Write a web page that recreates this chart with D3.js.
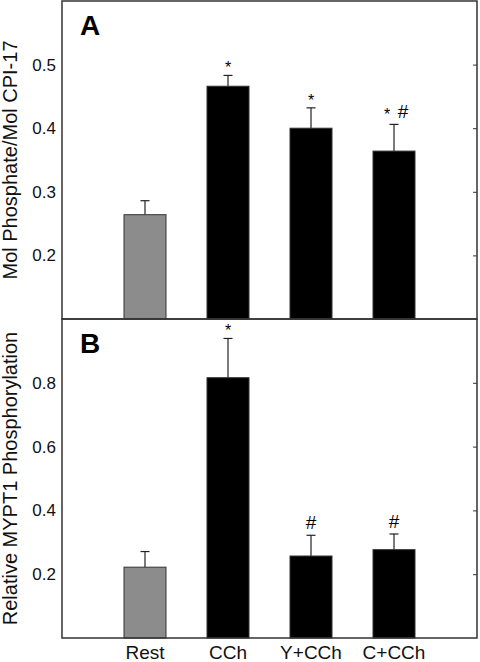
<!DOCTYPE html>
<html><head><meta charset="utf-8">
<script src="https://cdn.jsdelivr.net/npm/d3@7"></script>
<style>body{margin:0;background:#fff}svg{display:block;font-family:Arial,"Liberation Sans",sans-serif}</style>
</head><body><svg id="c" width="480" height="662"></svg>
<script>
const categories = ["Rest","CCh","Y+CCh","C+CCh"];
const colors = ["#8c8c8c","#000","#000","#000"];
const aValues = [0.264, 0.466, 0.400, 0.364];
const aErrors = [0.022, 0.017, 0.032, 0.042];
const aMarks = ["", "*", "*", "* #"];
const aTicks = [0.2, 0.3, 0.4, 0.5];
const bValues = [0.222, 0.816, 0.257, 0.277];
const bErrors = [0.049, 0.123, 0.065, 0.049];
const bMarks = ["", "*", "#", "#"];
const bTicks = [0.2, 0.4, 0.6, 0.8];

const svg = d3.select("#c");
const L = 62, R = 477;
const x = d3.scaleLinear().domain([0,5]).range([L,R]);
const bw = 42;

function panel(top, bottom, domain, vals, errs, marks, ticks, letter, ylabel){
  const y = d3.scaleLinear().domain(domain).range([bottom, top]);
  const g = svg.append("g");
  vals.forEach((v,i)=>{
    const cx = x(i+1);
    g.append("line").attr("x1",cx).attr("x2",cx).attr("y1",y(v)).attr("y2",y(v+errs[i])).attr("stroke","#222").attr("stroke-width",1.2);
    g.append("line").attr("x1",cx-4.5).attr("x2",cx+4.5).attr("y1",y(v+errs[i])).attr("y2",y(v+errs[i])).attr("stroke","#222").attr("stroke-width",1.2);
    g.append("rect").attr("x",cx-bw/2).attr("width",bw).attr("y",y(v)).attr("height",bottom-y(v))
      .attr("fill",colors[i]).attr("stroke","#333").attr("stroke-width",1);
    if(marks[i]){
      const ty = y(v+errs[i]) - 6;
      if(marks[i].includes("#")){
        if(marks[i].includes("*")){
          g.append("text").attr("x",cx-7).attr("y",ty+2).attr("text-anchor","middle").attr("font-size",16).text("*");
          g.append("text").attr("x",cx+9).attr("y",ty).attr("text-anchor","middle").attr("font-size",19).text("#");
        } else {
          g.append("text").attr("x",cx).attr("y",ty).attr("text-anchor","middle").attr("font-size",19).text("#");
        }
      } else {
        g.append("text").attr("x",cx).attr("y",ty+4).attr("text-anchor","middle").attr("font-size",16).text("*");
      }
    }
  });
  const ya = g.append("g").attr("transform",`translate(${L},0)`).call(d3.axisLeft(y).tickValues(ticks).tickSize(0).tickPadding(6).tickFormat(d3.format(".1f")));
  ya.select(".domain").remove();
  ya.selectAll("text").attr("font-size",17).attr("fill","#111").attr("font-family","Arial,'Liberation Sans',sans-serif");
  const yr = g.append("g").attr("transform",`translate(${R},0)`).call(d3.axisRight(y).tickValues(ticks).tickSize(-4).tickFormat(""));
  yr.select(".domain").remove();
  yr.selectAll("line").attr("stroke","#333");
  g.append("rect").attr("x",L).attr("y",top).attr("width",R-L).attr("height",bottom-top).attr("fill","none").attr("stroke","#333").attr("stroke-width",1.5);
  g.append("text").attr("x",80).attr("y",top+34).attr("font-size",28).attr("font-weight","bold").text(letter);
  g.append("text").attr("transform",`translate(17,${(top+bottom)/2}) rotate(-90)`).attr("text-anchor","middle").attr("font-size",20).attr("fill","#111").text(ylabel);
}

panel(1, 319, [0.1, 0.6], aValues, aErrors, aMarks, aTicks, "A", "Mol Phosphate/Mol CPI-17");
panel(319, 638, [0, 1.0], bValues, bErrors, bMarks, bTicks, "B", "Relative MYPT1 Phosphorylation");

svg.append("g").selectAll("text").data(categories).join("text")
  .attr("x",(d,i)=>x(i+1)).attr("y",659).attr("text-anchor","middle").attr("font-size",19).attr("fill","#111").text(d=>d);
</script></body></html>
